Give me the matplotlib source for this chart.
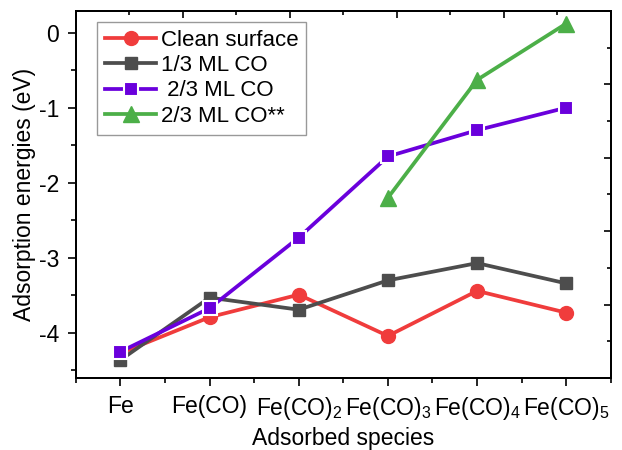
import numpy as np
import matplotlib
matplotlib.use("Agg")
import matplotlib.pyplot as plt
from matplotlib.ticker import MultipleLocator

# Data.

species = ["Fe", "Fe(CO)", "Fe(CO)$_2$", "Fe(CO)$_3$", "Fe(CO)$_4$", "Fe(CO)$_5$"]
clean = [-4.27, -3.79, -3.49, -4.04, -3.44, -3.73]
co_13 = [-4.36, -3.53, -3.69, -3.30, -3.07, -3.34]
co_23 = [-4.25, -3.67, -2.73, -1.65, -1.30, -1.00]
co_23_ss = [np.nan, np.nan, np.nan, -2.20, -0.63, 0.12]

# Style.

plt.rcParams["font.family"] = ["Liberation Sans", "DejaVu Sans"]
plt.rcParams["font.size"] = 16.5
plt.rcParams["mathtext.fontset"] = "custom"
plt.rcParams["mathtext.rm"] = "Liberation Sans"
plt.rcParams["mathtext.it"] = "Liberation Sans:italic"
plt.rcParams["axes.linewidth"] = 1.2
plt.rcParams["axes.unicode_minus"] = False

fig = plt.figure(figsize=(6.22, 4.5), dpi=100)
ax = fig.add_axes([0.122, 0.16, 0.860, 0.816])

x = np.arange(len(species))

ax.plot(x, clean, "-o", color="#f03c3c", lw=2.7, ms=10, label="Clean surface")
ax.plot(x, co_13, "-s", color="#4d4d4d", lw=2.7, ms=9, label="1/3 ML CO")
ax.plot(x, co_23, "-s", color="#6a00dc", lw=2.7, ms=10, mec="white", mew=1.5,
        label=" 2/3 ML CO")
ax.plot(x, co_23_ss, "-^", color="#4caf48", lw=2.7, ms=11, label="2/3 ML CO**")

ax.set_xlim(-0.5, 5.5)
ax.set_ylim(-4.6, 0.29)
ax.set_xticks(x)
ax.set_xticklabels(species)
ax.xaxis.set_minor_locator(MultipleLocator(0.5))
ax.yaxis.set_major_locator(MultipleLocator(1))
ax.yaxis.set_minor_locator(MultipleLocator(0.5))
ax.tick_params(which="major", direction="out", length=6, width=1.2, pad=6)
ax.tick_params(which="minor", direction="out", length=3.5, width=1.2)

ax.set_xlabel("Adsorbed species", labelpad=4)
ax.set_ylabel("Adsorption energies (eV)", labelpad=2)

# Mirrored top and right axes with their own ticks.

top = ax.twiny()
top.set_xlim(0, 1)
top.xaxis.set_major_locator(MultipleLocator(0.2))
top.xaxis.set_minor_locator(MultipleLocator(0.1))
top.tick_params(which="major", direction="in", length=5, width=1.2, labeltop=False)
top.tick_params(which="minor", direction="in", length=3, width=1.2)

right = ax.twinx()
right.set_ylim(0, 1)
right.yaxis.set_major_locator(MultipleLocator(0.2))
right.yaxis.set_minor_locator(MultipleLocator(0.1))
right.tick_params(which="major", direction="in", length=5, width=1.2, labelright=False)
right.tick_params(which="minor", direction="in", length=3, width=1.2)

leg = ax.legend(loc="upper left", bbox_to_anchor=(0.04, 0.97), fontsize=16,
                handlelength=2.3, handletextpad=0.2, labelspacing=0.2,
                borderpad=0.35, borderaxespad=0, fancybox=False, framealpha=1)
leg.get_frame().set_edgecolor("#999999")
leg.get_frame().set_linewidth(1.0)

fig.savefig("out.png", dpi=100)
